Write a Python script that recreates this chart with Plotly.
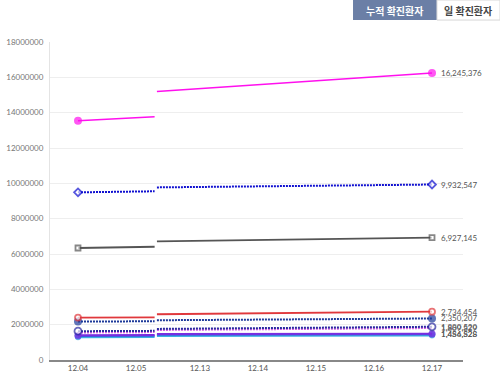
import plotly.graph_objects as go

# x-axis (broken axis between 12.05 and 12.13)
tick_labels = ["12.04", "12.05", "12.13", "12.14", "12.15", "12.16", "12.17"]
tick_pos = [0, 1, 2.1, 3.1, 4.1, 5.1, 6.1]
seg1_x = [0, 1.32]      # 12.04 -> break
seg2_x = [1.36, 6.1]    # break -> 12.17

# series values: [12.04, before break, after break, 12.17]
s_magenta = [13540000, 13770000, 15200000, 16245376]
s_blue_dia = [9490000, 9550000, 9770000, 9932547]
s_gray = [6340000, 6410000, 6720000, 6927145]
s_red = [2400000, 2410000, 2590000, 2734454]
s_navy = [2180000, 2190000, 2250000, 2350207]
s_navy_open = [1630000, 1650000, 1760000, 1880520]
s_violet = [1560000, 1580000, 1700000, 1809829]
s_purple = [1400000, 1410000, 1470000, 1484828]
s_blue = [1360000, 1370000, 1430000, 1456528]
s_cyan = [1290000, 1300000, 1360000, 1380000]

end_labels = {
    "magenta": "16,245,376", "blue_dia": "9,932,547", "gray": "6,927,145",
    "red": "2,734,454", "navy": "2,350,207", "navy_open": "1,880,520",
    "violet": "1,809,829", "purple": "1,484,828", "blue": "1,456,528",
}

DOT = "2px,1px"
styles = [
    ("cyan", s_cyan, "#3fb0e0", "solid", 2, "circle", "#3fb0e0", "#3fb0e0", 6),
    ("blue", s_blue, "#3a5ee0", "solid", 2, "circle", "#3a5ee0", "#3a5ee0", 7),
    ("purple", s_purple, "#7a2ee0", "solid", 2, "circle", "#7a2ee0", "#7a2ee0", 7),
    ("violet", s_violet, "#d060e0", DOT, 2, "circle", "#d060e0", "#d060e0", 0),
    ("navy_open", s_navy_open, "#2a2aa0", DOT, 2, "circle", "white", "#2a2aa0", 7),
    ("navy", s_navy, "#1e3a9a", DOT, 2, "circle", "#1e3a9a", "#1e3a9a", 8),
    ("red", s_red, "#e0383c", "solid", 1.8, "circle", "white", "#e0383c", 6),
    ("gray", s_gray, "#555555", "solid", 1.8, "square", "white", "#555555", 5),
    ("blue_dia", s_blue_dia, "#1010d0", DOT, 2, "diamond", "white", "#1010d0", 6),
    ("magenta", s_magenta, "#ff10ee", "solid", 1.6, "circle", "#ff10ee", "#ff10ee", 8),
]

fig = go.Figure()
for name, vals, lc, dash, lw, sym, fill, mline, msize in styles:
    xs = [seg1_x[0], seg1_x[1], None, seg2_x[0], seg2_x[1]]
    ys = [vals[0], vals[1], None, vals[2], vals[3]]
    sizes = [msize, 0, 0, 0, msize]
    fig.add_trace(go.Scatter(
        x=xs, y=ys, mode="lines+markers",
        line=dict(color=lc, width=lw, dash=dash),
        marker=dict(symbol=sym, size=sizes, color=fill,
                    line=dict(color=mline, width=1.8 if fill == "white" else 0)),
        showlegend=False, hoverinfo="skip", connectgaps=False,
    ))
    if name in end_labels:
        fig.add_annotation(x=seg2_x[1], y=vals[3], text=end_labels[name],
                           xanchor="left", yanchor="middle", xshift=7,
                           showarrow=False,
                           font=dict(size=8, color="#555555", family="Lato"))

# toggle buttons (paper coords: x px -> (px-50)/413, y px -> (360-py)/318)
fig.add_shape(type="rect", xref="paper", yref="paper", x0=0.7337, x1=0.937,
              y0=1.069, y1=1.132, fillcolor="#6b7fa6", line=dict(width=0))
fig.add_shape(type="rect", xref="paper", yref="paper", x0=0.937, x1=1.0896,
              y0=1.069, y1=1.132, fillcolor="white",
              line=dict(color="#d8d8d8", width=1))
fig.add_annotation(xref="paper", yref="paper", x=0.835, y=1.1006, text="<b>누적 확진환자</b>",
                   xanchor="center", yanchor="middle", showarrow=False,
                   font=dict(size=10, color="white", family="Noto Sans CJK KR"))
fig.add_annotation(xref="paper", yref="paper", x=1.013, y=1.1006, text="<b>일 확진환자</b>",
                   xanchor="center", yanchor="middle", showarrow=False,
                   font=dict(size=10, color="#444444", family="Noto Sans CJK KR"))

fig.update_layout(
    width=500, height=378,
    margin=dict(l=50, r=37, t=42, b=18, autoexpand=False),
    paper_bgcolor="white", plot_bgcolor="white",
    font=dict(family="Lato", size=8, color="#666666"),
    xaxis=dict(range=[-0.4825, 6.634], tickvals=tick_pos, ticktext=tick_labels,
               showgrid=False, zeroline=False, showline=True, linecolor="#888888",
               linewidth=1.5, ticks="", automargin=False,
               tickfont=dict(size=8, color="#555555")),
    yaxis=dict(range=[0, 18000000], tickvals=list(range(0, 18000001, 2000000)),
               tickformat="d", showgrid=True, gridcolor="#eeeeee", zeroline=False,
               showline=True, linecolor="#e4e4e4", ticks="", automargin=False,
               ticklabelstandoff=4,
               tickfont=dict(size=8, color="#777777")),
)

fig.write_html("out.html", config={"displayModeBar": False},
               post_script="document.body.style.margin='0';document.body.style.overflow='hidden';")
